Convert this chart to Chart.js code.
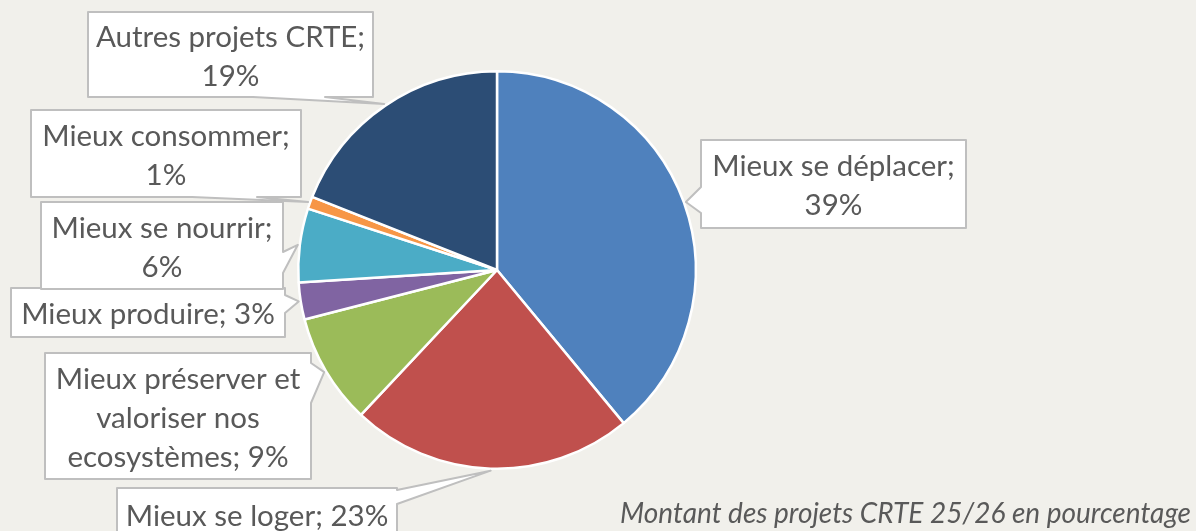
<!DOCTYPE html>
<html lang="fr">
<head>
<meta charset="utf-8">
<title>Montant des projets CRTE 25/26 en pourcentage</title>
<script src="https://cdn.jsdelivr.net/npm/chart.js@4.4.1/dist/chart.umd.min.js"></script>
<style>
  html, body { margin: 0; padding: 0; background: #f1f0eb; }
  #wrap { width: 1196px; height: 531px; position: relative; }
</style>
</head>
<body>
<div id="wrap"><canvas id="pie" width="1196" height="531"></canvas></div>
<script>
// Thematic shares of the CRTE 25/26 projects (percent of amount)
const categories = [
  'Mieux se déplacer',
  'Mieux se loger',
  'Mieux préserver et valoriser nos ecosystèmes',
  'Mieux produire',
  'Mieux se nourrir',
  'Mieux consommer',
  'Autres projets CRTE'
];
const shares = [39, 23, 9, 3, 6, 1, 19];
const sliceColors = ['#4f81bd', '#c0504d', '#9bbb59', '#8064a2', '#4bacc6', '#f79646', '#2c4d75'];
const caption = 'Montant des projets CRTE 25/26 en pourcentage';

// Callout boxes: box = [x, y, w, h]; side = edge carrying the pointer;
// base = pointer foot along that edge; words = words per text line.
const callouts = [
  { box: [701, 140, 265, 88], side: 'left',   base: [187, 213], words: [3, 1] },
  { box: [117, 488, 280, 52], side: 'right',  base: [490, 504], words: [4] },
  { box: [45, 353, 266, 126], side: 'right',  base: [363, 403], words: [3, 2, 2] },
  { box: [11, 288, 274, 49],  side: 'right',  base: [295, 313], words: [3] },
  { box: [41, 202, 242, 87],  side: 'right',  base: [252, 273], words: [3, 1] },
  { box: [31, 110, 270, 87],  side: 'bottom', base: [192, 257], words: [2, 1] },
  { box: [88, 12, 285, 85],   side: 'bottom', base: [253, 325], words: [3, 1] }
];

const FONT = '"Lato", "Open Sans", sans-serif';
const TEXT_COLOR = '#595959';
const LINE_H = 39;

const background = {
  id: 'background',
  beforeDraw(chart) {
    const { ctx, width, height } = chart;
    ctx.save();
    ctx.fillStyle = '#f1f0eb';
    ctx.fillRect(0, 0, width, height);
    ctx.restore();
  }
};

function calloutPath(ctx, c, tx, ty) {
  const [x, y, w, h] = c.box;
  const [a, b] = c.base;
  ctx.beginPath();
  if (c.side === 'right') {
    ctx.moveTo(x, y); ctx.lineTo(x + w, y); ctx.lineTo(x + w, a);
    ctx.lineTo(tx, ty); ctx.lineTo(x + w, b); ctx.lineTo(x + w, y + h);
    ctx.lineTo(x, y + h);
  } else if (c.side === 'left') {
    ctx.moveTo(x, y); ctx.lineTo(x + w, y); ctx.lineTo(x + w, y + h);
    ctx.lineTo(x, y + h); ctx.lineTo(x, b); ctx.lineTo(tx, ty); ctx.lineTo(x, a);
  } else if (c.side === 'bottom') {
    ctx.moveTo(x, y); ctx.lineTo(x + w, y); ctx.lineTo(x + w, y + h);
    ctx.lineTo(b, y + h); ctx.lineTo(tx, ty); ctx.lineTo(a, y + h);
    ctx.lineTo(x, y + h);
  } else {
    ctx.moveTo(x, y); ctx.lineTo(a, y); ctx.lineTo(tx, ty); ctx.lineTo(b, y);
    ctx.lineTo(x + w, y); ctx.lineTo(x + w, y + h); ctx.lineTo(x, y + h);
  }
  ctx.closePath();
}

const calloutLabels = {
  id: 'calloutLabels',
  afterDatasetsDraw(chart) {
    const { ctx } = chart;
    const meta = chart.getDatasetMeta(0);
    ctx.save();
    meta.data.forEach((arc, i) => {
      const c = callouts[i];
      const p = arc.getProps(['x', 'y', 'startAngle', 'endAngle', 'outerRadius'], true);
      const mid = (p.startAngle + p.endAngle) / 2;
      const r = p.outerRadius + 2;
      const tx = p.x + Math.cos(mid) * r;
      const ty = p.y + Math.sin(mid) * r;

      calloutPath(ctx, c, tx, ty);
      ctx.fillStyle = '#ffffff';
      ctx.fill();
      ctx.lineWidth = 2;
      ctx.lineJoin = 'round';
      ctx.strokeStyle = '#bfbfbf';
      ctx.stroke();

      // label text: "<category>; <value>%", broken into lines
      const words = (categories[i] + '; ' + shares[i] + '%').split(' ');
      const lines = [];
      let k = 0;
      c.words.forEach(n => { lines.push(words.slice(k, k + n).join(' ')); k += n; });
      const [x, y, w, h] = c.box;
      const cx = x + w / 2;
      const cy = y + h / 2 + 2;
      ctx.fillStyle = TEXT_COLOR;
      ctx.font = '29.5px ' + FONT;
      ctx.textAlign = 'center';
      ctx.textBaseline = 'middle';
      lines.forEach((t, j) => {
        ctx.fillText(t, cx, cy + (j - (lines.length - 1) / 2) * LINE_H);
      });
    });

    ctx.fillStyle = TEXT_COLOR;
    ctx.font = 'italic 28px ' + FONT;
    ctx.textAlign = 'right';
    ctx.textBaseline = 'alphabetic';
    ctx.fillText(caption, 1191, 523);
    ctx.restore();
  }
};

new Chart(document.getElementById('pie'), {
  type: 'pie',
  data: {
    labels: categories,
    datasets: [{
      data: shares,
      backgroundColor: sliceColors,
      borderColor: '#ffffff',
      borderWidth: 2.5
    }]
  },
  options: {
    responsive: false,
    animation: false,
    layout: { padding: { left: 297, right: 499, top: 70, bottom: 61 } },
    plugins: {
      legend: { display: false },
      tooltip: { enabled: false }
    }
  },
  plugins: [background, calloutLabels]
});
</script>
</body>
</html>
